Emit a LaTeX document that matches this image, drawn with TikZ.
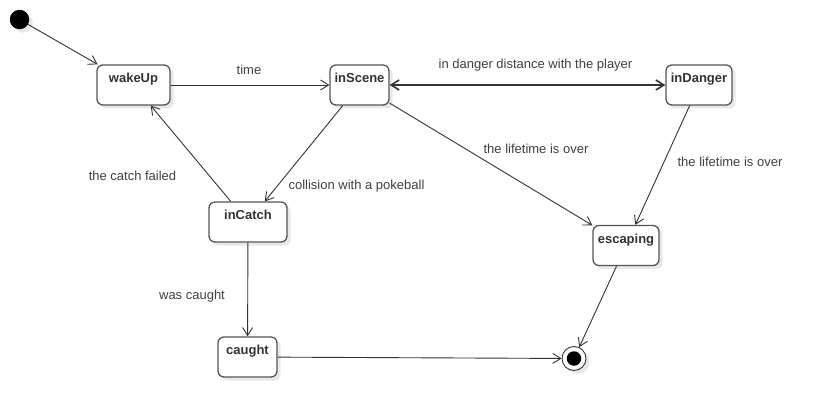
\documentclass[tikz,border=0pt]{standalone}
\usepackage{fontspec}
\setmainfont{Liberation Sans}
\usetikzlibrary{arrows.meta,shadows}
\definecolor{linec}{HTML}{333333}
\definecolor{boxc}{HTML}{555555}
\definecolor{textc}{HTML}{333333}
\definecolor{lblc}{HTML}{404040}
\begin{document}
\begin{tikzpicture}[x=1pt,y=-1pt,
  font=\fontsize{13pt}{15pt}\selectfont,
  shadowed/.style={drop shadow={shadow xshift=3.5pt, shadow yshift=-3.5pt, fill=black, opacity=0.09}},
  state/.style={draw=boxc, line width=1.3pt, rounded corners=6pt, fill=white,
    minimum height=40pt, inner sep=0pt, text height=17.5pt, text depth=22.5pt,
    font=\fontsize{13pt}{15pt}\selectfont\bfseries, text=textc, shadowed},
  tip/.tip={Straight Barb[length=8pt,width=10pt]},
  trans/.style={draw=linec, line width=0.9pt, -tip},
  lbl/.style={text=lblc, inner sep=0pt, text height=9.5pt, text depth=2.7pt}]
\useasboundingbox[fill=white] (0,0) rectangle (821,417);

% states
\node[circle, fill=black, minimum size=19.5pt, inner sep=0pt, shadowed] (init) at (19.5,19.5) {};
\node[state, minimum width=73pt] (wakeUp) at (133.5,85) {wakeUp};
\node[state, minimum width=59pt] (inScene) at (359.5,85) {inScene};
\node[state, minimum width=66pt] (inDanger) at (699,85) {inDanger};
\node[state, minimum width=78pt] (inCatch) at (248,222) {inCatch};
\node[state, minimum width=66pt] (escaping) at (626,245.5) {escaping};
\node[state, minimum width=59pt] (caught) at (247.5,357) {caught};
\node[circle, draw=linec, line width=0.9pt, fill=white, minimum size=24pt, inner sep=0pt, shadowed] (final) at (574,358.5) {};
\node[circle, fill=black, minimum size=14.5pt, inner sep=0pt] (finaldot) at (final.center) {};

% transitions
\draw[trans] (init) -- (wakeUp);
\draw[trans] (wakeUp) -- (inScene);
\draw[trans, tip-tip, line width=1.6pt] (inScene) -- (inDanger);
\draw[trans] (inScene) -- (escaping);
\draw[trans] (inDanger) -- (escaping);
\draw[trans] (inScene) -- (inCatch);
\draw[trans] (inCatch) -- (wakeUp);
\draw[trans] (inCatch) -- (caught);
\draw[trans] (caught) -- (final);
\draw[trans] (escaping) -- (final);

% labels
\node[lbl] (l1) at (249,71.5) {time};
\node[lbl] (l2) at (535.5,65) {in danger distance with the player};
\node[lbl] (l3) at (536,150) {the lifetime is over};
\node[lbl] (l4) at (730,163.5) {the lifetime is over};
\node[lbl] (l5) at (132.5,177) {the catch failed};
\node[lbl] (l6) at (356.5,186) {collision with a pokeball};
\node[lbl] (l7) at (192,296.5) {was caught};
\end{tikzpicture}
\end{document}
